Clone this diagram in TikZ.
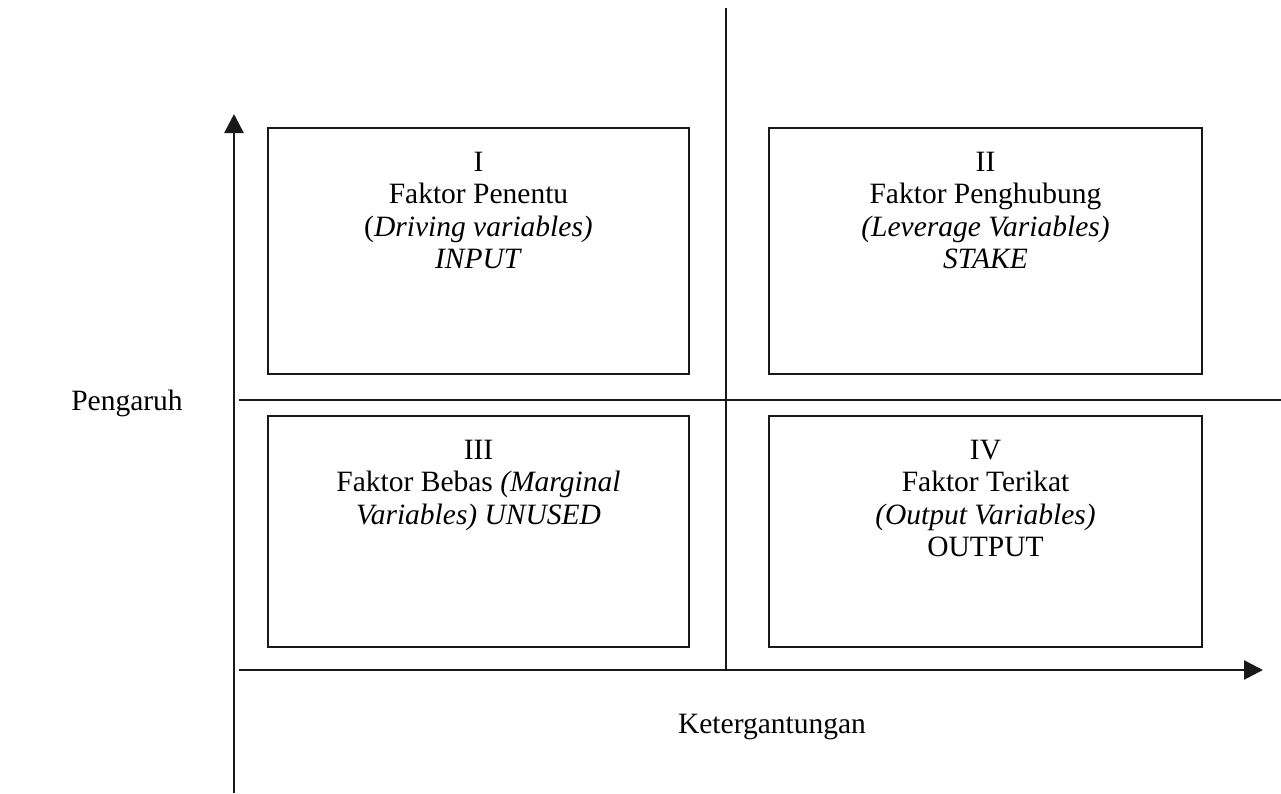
\documentclass[tikz,border=0pt]{standalone}
\usepackage{fontspec}
\setmainfont{Liberation Serif}
\usetikzlibrary{arrows.meta}
\begin{document}
\begin{tikzpicture}[x=1pt,y=-1pt,
  ln/.style={line width=2.6pt, draw=black!90},
  axis/.style={ln, -{Triangle[length=19pt,width=19pt]}},
  qbox/.style={ln, rectangle, inner sep=0pt},
  lbl/.style={align=center, inner sep=0pt, anchor=north, font=\fontsize{29.5}{32.5}\selectfont},
  txt/.style={inner sep=0pt, font=\fontsize{29.5}{32.5}\selectfont}]
\useasboundingbox (0,0) rectangle (1281,793);
% axes and dividing lines
\coordinate (vb) at (234,793);
\coordinate (vt) at (234,114);
\coordinate (hl) at (239,670);
\coordinate (hr) at (1263,670);
\coordinate (ct) at (726,8);
\coordinate (cb) at (726,670);
\coordinate (ml) at (239,400);
\coordinate (mr) at (1281,400);
\draw[axis] (vb) -- (vt);
\draw[axis] (hl) -- (hr);
\draw[ln] (ct) -- (cb);
\draw[ln] (ml) -- (mr);
% quadrant boxes
\node[qbox, minimum width=421pt, minimum height=246pt] (b1) at (478.5,251) {};
\node[qbox, minimum width=433pt, minimum height=246pt] (b2) at (985.5,251) {};
\node[qbox, minimum width=421pt, minimum height=231pt] (b3) at (478.5,531.5) {};
\node[qbox, minimum width=433pt, minimum height=231pt] (b4) at (985.5,531.5) {};
% labels
\node[lbl] (t1) at ([yshift=-25pt]b1.north) {I\\Faktor Penentu\\(\textit{Driving variables)}\\\textit{INPUT}};
\node[lbl] (t2) at ([yshift=-25pt]b2.north) {II\\Faktor Penghubung\\\textit{(Leverage Variables)}\\\textit{STAKE}};
\node[lbl] (t3) at ([yshift=-25pt]b3.north) {III\\Faktor Bebas \textit{(Marginal}\\\textit{Variables) UNUSED}};
\node[lbl] (t4) at ([yshift=-25pt]b4.north) {IV\\Faktor Terikat\\\textit{(Output Variables)}\\OUTPUT};
\node[txt] (py) at (127,403) {Pengaruh};
\node[txt] (px) at (772,727) {Ketergantungan};
\end{tikzpicture}
\end{document}
